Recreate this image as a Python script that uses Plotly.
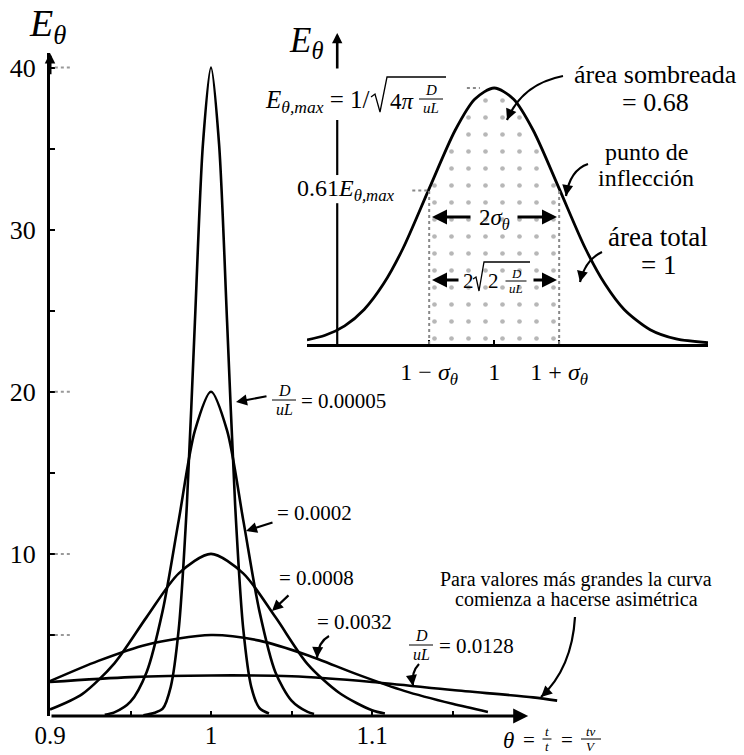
import plotly.graph_objects as go

W, H = 744, 755
FONT = "Liberation Serif, DejaVu Serif, serif"

# --- response curves E_theta(theta) for each dispersion number D/uL ---
dul_values = ["0.00005", "0.0002", "0.0008", "0.0032", "0.0128"]

theta_00005 = [0.958, 0.965, 0.970, 0.975, 0.980, 0.985, 0.990, 0.995, 1.000,
               1.005, 1.010, 1.015, 1.020, 1.025, 1.030, 1.036]
e_00005 = [0.05, 0.2, 0.45, 1.8, 5.4, 13.0, 24.3, 35.3, 40.0,
           35.3, 24.3, 13.0, 5.4, 1.8, 0.5, 0.15]

theta_0002 = [0.934, 0.940, 0.950, 0.960, 0.970, 0.980, 0.990, 1.000,
              1.010, 1.020, 1.030, 1.040, 1.050, 1.060, 1.064]
e_0002 = [0.08, 0.22, 0.88, 2.7, 6.5, 12.1, 17.6, 20.0,
          17.6, 12.1, 6.5, 2.7, 0.95, 0.25, 0.12]

theta_0008 = [0.900, 0.920, 0.940, 0.960, 0.980, 1.000, 1.020, 1.040,
              1.060, 1.080, 1.100, 1.108]
e_0008 = [0.4, 1.35, 3.25, 6.1, 8.8, 10.0, 8.8, 6.1, 3.2, 1.4, 0.35, 0.15]

theta_0032 = [0.900, 0.930, 0.960, 1.000, 1.030, 1.060, 1.090, 1.120, 1.150, 1.172]
e_0032 = [2.15, 3.4, 4.4, 5.0, 4.65, 3.75, 2.6, 1.55, 0.75, 0.25]

theta_0128 = [0.900, 0.950, 1.000, 1.050, 1.100, 1.150, 1.200, 1.215]
e_0128 = [2.1, 2.4, 2.5, 2.45, 2.1, 1.6, 1.15, 0.95]

curves = [(theta_00005, e_00005), (theta_0002, e_0002), (theta_0008, e_0008),
          (theta_0032, e_0032), (theta_0128, e_0128)]

# main axis ticks
x_ticks = [0.9, 0.95, 1.0, 1.05, 1.1, 1.15]
x_ticklabels = ["0.9", "", "1", "", "1.1", ""]
y_ticks = [5, 10, 15, 20, 25, 30, 35, 40]
y_ticklabels = ["", "10", "", "20", "", "30", "", "40"]

# --- inset: normalised E_theta / E_theta,max around theta = 1 ---
theta_inset = [0.712, 0.74, 0.77, 0.80, 0.83, 0.86, 0.90, 0.94, 0.97, 1.00,
               1.03, 1.06, 1.10, 1.14, 1.17, 1.20, 1.24, 1.28, 1.329]
e_inset = [0.016, 0.034, 0.071, 0.135, 0.236, 0.375, 0.607, 0.835, 0.956, 1.0,
           0.956, 0.835, 0.607, 0.375, 0.236, 0.135, 0.056, 0.02, 0.005]
sigma_lo, sigma_hi = 0.9, 1.1
inset_ticks = [0.9, 1.0, 1.1]
inset_ticklabels = ["1 − <i>σ</i><sub><i>θ</i></sub>", "1",
                    "1 + <i>σ</i><sub><i>θ</i></sub>"]

fig = go.Figure()

for th, e in curves:
    fig.add_trace(go.Scatter(x=th, y=e, mode="lines", xaxis="x", yaxis="y",
                             line=dict(color="black", width=2.6, shape="spline",
                                       smoothing=0.8),
                             hoverinfo="skip", showlegend=False))

# shaded band between 1 - sigma and 1 + sigma
shade = [(t, v) for t, v in zip(theta_inset, e_inset) if sigma_lo <= t <= sigma_hi]
fig.add_trace(go.Scatter(x=[t for t, _ in shade], y=[v for _, v in shade],
                         xaxis="x2", yaxis="y2", mode="none", fill="tozeroy",
                         fillcolor="rgba(255,255,255,0)",
                         fillpattern=dict(shape=".", size=17, solidity=0.06,
                                          fgcolor="#6f6f6f"),
                         hoverinfo="skip", showlegend=False))
fig.add_trace(go.Scatter(x=theta_inset, y=e_inset, mode="lines", xaxis="x2", yaxis="y2",
                         line=dict(color="black", width=2.8, shape="spline", smoothing=0.8),
                         hoverinfo="skip", showlegend=False))

annotations = []
shapes = []


def px(x):
    return x / W


def py(y):
    return 1 - y / H


def text(x, y, s, size, anchor="center"):
    annotations.append(dict(x=px(x), y=py(y), xref="paper", yref="paper", text=s,
                            showarrow=False, font=dict(size=size, family=FONT, color="black"),
                            xanchor=anchor, yanchor="middle", borderpad=0))


def frac(cx, cy, num, den, size, w):
    text(cx, cy - size * 0.58, num, size)
    text(cx, cy + size * 0.58, den, size)
    shapes.append(dict(type="line", xref="paper", yref="paper",
                       x0=px(cx - w / 2), x1=px(cx + w / 2), y0=py(cy), y1=py(cy),
                       line=dict(color="black", width=1)))


def arrow(x0, y0, x1, y1, width=2.2):
    annotations.append(dict(x=px(x1), y=py(y1), xref="paper", yref="paper",
                            ax=x0 - x1, ay=y0 - y1, text="", showarrow=True,
                            arrowhead=2, arrowsize=1, arrowwidth=width,
                            arrowcolor="black"))


def curved_arrow(x0, y0, cx, cy, x1, y1, width=2.2):
    shapes.append(dict(type="path", xref="paper", yref="paper",
                       path=f"M {px(x0)} {py(y0)} Q {px(cx)} {py(cy)} {px(x1)} {py(y1)}",
                       line=dict(color="black", width=width)))
    dx, dy = cx - x1, cy - y1
    n = (dx * dx + dy * dy) ** 0.5 or 1
    annotations.append(dict(x=px(x1), y=py(y1), xref="paper", yref="paper",
                            ax=dx / n * 6, ay=dy / n * 6, text="", showarrow=True,
                            arrowhead=2, arrowsize=1, arrowwidth=width,
                            arrowcolor="black"))


def polyline(points, width=1.3):
    d = "M " + " L ".join(f"{px(x)} {py(y)}" for x, y in points)
    shapes.append(dict(type="path", xref="paper", yref="paper", path=d,
                       line=dict(color="black", width=width)))


# ---------------- main plot decorations ----------------
# horizontal axis with arrow
annotations.append(dict(x=1.197, y=0, xref="x", yref="y", ax=0.9, ay=0,
                        axref="x", ayref="y", text="", showarrow=True,
                        arrowhead=2, arrowsize=1, arrowwidth=3, arrowcolor="black"))
# top of vertical axis
annotations.append(dict(x=0.9, y=40.9, xref="x", yref="y", ax=0.9, ay=39.5,
                        axref="x", ayref="y", text="", showarrow=True,
                        arrowhead=2, arrowsize=0.7, arrowwidth=3, arrowcolor="black"))
# dotted stubs next to the labelled levels
for lvl in [5, 10, 20, 40]:
    shapes.append(dict(type="line", xref="x", yref="y", x0=0.903, x1=0.913,
                       y0=lvl, y1=lvl, line=dict(color="#999999", width=2, dash="dot")))

text(47, 26, "<i>E</i><sub><i>θ</i></sub>", 38)

frac(284, 400, "<i>D</i>", "<i>uL</i>", 16, 24)
text(300, 401, "= 0.00005", 21, "left")
arrow(268, 396, 236, 402)

text(276, 513, "= 0.0002", 21, "left")
arrow(274, 522, 246, 531)

text(278, 578, "= 0.0008", 21, "left")
arrow(290, 594, 272, 611)

text(316, 622, "= 0.0032", 21, "left")
curved_arrow(329, 636, 318, 642, 317, 658)

frac(421, 645, "<i>D</i>", "<i>uL</i>", 16, 24)
text(438, 646, "= 0.0128", 21, "left")
curved_arrow(419, 664, 411, 672, 413, 686)

text(576, 579, "Para valores más grandes la curva", 20)
text(576, 599, "comienza a hacerse asimétrica", 20)
curved_arrow(575, 617, 572, 668, 541, 697)

# axis title  theta = t/t = tv/V
text(509, 740, "<i>θ</i>", 23)
text(529, 740, "=", 21)
frac(547, 739, "<i>t</i>", "<i>t</i>", 13, 9)
text(567, 740, "=", 21)
frac(591, 739, "<i>tv</i>", "<i>V</i>", 13, 20)

# ---------------- inset decorations ----------------
x_yax2 = 0.7585
for y0, y1 in [(0, 0.55), (0.66, 0.875)]:
    shapes.append(dict(type="line", xref="x2", yref="y2", x0=x_yax2, x1=x_yax2,
                       y0=y0, y1=y1, line=dict(color="black", width=2.2)))
annotations.append(dict(x=x_yax2, y=1.215, xref="x2", yref="y2", ax=x_yax2, ay=1.07,
                        axref="x2", ayref="y2", text="", showarrow=True,
                        arrowhead=2, arrowsize=0.8, arrowwidth=2.6, arrowcolor="black"))
# dotted guides at 1 +/- sigma and at the two marked levels
for xs in [sigma_lo, sigma_hi]:
    shapes.append(dict(type="line", xref="x2", yref="y2", x0=xs, x1=xs, y0=0, y1=0.607,
                       line=dict(color="#888888", width=2, dash="dot")))
shapes.append(dict(type="line", xref="x2", yref="y2", x0=0.958, x1=0.978, y0=1.0, y1=1.0,
                   line=dict(color="#888888", width=2, dash="dot")))
shapes.append(dict(type="line", xref="x2", yref="y2", x0=0.874, x1=0.897, y0=0.60, y1=0.60,
                   line=dict(color="#888888", width=2, dash="dot")))

text(306, 43, "<i>E</i><sub><i>θ</i></sub>", 35)

text(371, 101, "<i>E</i><sub><i>θ,max</i></sub> = 1/", 25, "right")
polyline([(371, 97), (375, 94), (380, 112), (387, 77), (446, 77)])
text(389, 101, "4<i>π</i>", 23, "left")
frac(431, 99, "<i>D</i>", "<i>uL</i>", 15, 24)

text(346, 190, "0.61<i>E</i><sub><i>θ,max</i></sub>", 24)

# 2 sigma
arrow(472, 217, 432, 217, 3)
text(494, 219, "2<i>σ</i><sub><i>θ</i></sub>", 23)
arrow(516, 217, 557, 217, 3)

# 2 sqrt(2 D/uL)
arrow(460, 280, 432, 280, 3)
text(468, 281, "2", 21)
polyline([(473, 279), (476, 277), (479, 291), (484, 262), (530, 262)])
text(493, 281, "2", 21)
frac(516, 281, "<i>D</i>", "<i>uL</i>", 13, 21)
arrow(532, 280, 557, 280, 3)

text(655, 75, "área sombreada", 26)
text(655, 102, "= 0.68", 26)
curved_arrow(563, 76, 522, 84, 507, 120)

text(646, 152, "punto de", 24)
text(646, 178, "inflección", 24)
curved_arrow(588, 164, 570, 170, 566, 196)

text(658, 237, "área total", 27)
text(658, 265, "= 1", 27)
curved_arrow(602, 252, 585, 260, 580, 282)

# ---------------- axes ----------------
main_x_dom = [50 / W, (50 + 0.33 * 1610) / W]
main_y_dom = [(H - 716) / H, (H - 53) / H]
ins_x_dom = [307 / W, 708 / W]
ins_y_dom = [(H - 344) / H, (H - 24) / H]

fig.update_layout(
    width=W, height=H,
    margin=dict(l=0, r=0, t=0, b=0, autoexpand=False),
    paper_bgcolor="white", plot_bgcolor="rgba(0,0,0,0)",
    font=dict(family=FONT, color="black"),
    showlegend=False,
    xaxis=dict(domain=main_x_dom, range=[0.9, 1.23], showgrid=False, zeroline=False,
               showline=False, tickmode="array", tickvals=x_ticks, ticktext=x_ticklabels,
               ticks="inside", ticklen=5, tickwidth=2, tickcolor="black",
               tickfont=dict(size=25, family=FONT), ticklabelstandoff=2,
               anchor="y", fixedrange=True, automargin=False),
    yaxis=dict(domain=main_y_dom, range=[0, 40.9], showgrid=False, zeroline=False,
               showline=True, linewidth=3, linecolor="black",
               tickmode="array", tickvals=y_ticks, ticktext=y_ticklabels,
               ticks="inside", ticklen=5, tickwidth=2, tickcolor="black",
               tickfont=dict(size=26, family=FONT), ticklabelstandoff=6,
               anchor="x", fixedrange=True, automargin=False),
    xaxis2=dict(domain=ins_x_dom, range=[0.712, 1.329], showgrid=False, zeroline=False,
                showline=True, linewidth=2.6, linecolor="black",
                tickmode="array", tickvals=inset_ticks, ticktext=inset_ticklabels,
                ticks="inside", ticklen=4, tickwidth=2, tickcolor="black",
                tickfont=dict(size=24, family=FONT), ticklabelstandoff=4,
                anchor="y2", fixedrange=True, automargin=False),
    yaxis2=dict(domain=ins_y_dom, range=[0, 1.25], visible=False,
                anchor="x2", fixedrange=True, automargin=False),
    annotations=annotations,
    shapes=shapes,
)

fig.write_html("out.html")
